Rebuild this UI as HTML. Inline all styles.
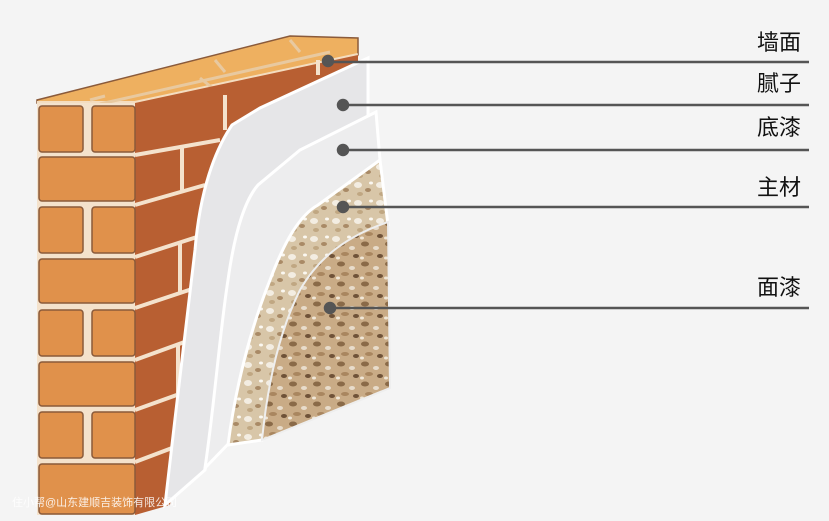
<!DOCTYPE html>
<html><head><meta charset="utf-8"><style>
html,body{margin:0;padding:0;background:#f4f4f4;}
svg{display:block}
text{font-family:"Liberation Sans","Noto Sans CJK SC",sans-serif;}
</style></head><body>
<svg width="829" height="521" viewBox="0 0 829 521" xmlns="http://www.w3.org/2000/svg">
<rect width="829" height="521" fill="#f4f4f4"/>
<defs>
<pattern id="spk" width="24" height="20" patternUnits="userSpaceOnUse">
<rect width="24" height="20" fill="#c9ab86"/>
<ellipse cx="5" cy="4" rx="4" ry="2.5" fill="#8a6a48"/>
<ellipse cx="16" cy="8" rx="3" ry="2" fill="#e8dccb"/>
<ellipse cx="9" cy="14" rx="4" ry="2" fill="#a9865f"/>
<ellipse cx="20" cy="16" rx="3" ry="2" fill="#6f5238"/>
<ellipse cx="2" cy="18" rx="2" ry="1.5" fill="#f0e6d6"/>
</pattern>
<pattern id="spk2" width="22" height="18" patternUnits="userSpaceOnUse">
<rect width="22" height="18" fill="#d8c6a8"/>
<ellipse cx="6" cy="5" rx="4" ry="3" fill="#f3ede2"/>
<ellipse cx="16" cy="10" rx="3" ry="2" fill="#a98a66"/>
<ellipse cx="8" cy="14" rx="3" ry="2" fill="#c0a782"/>
<ellipse cx="19" cy="3" rx="2" ry="1.5" fill="#fbf8f1"/>
</pattern>
</defs>
<!-- brick top face -->
<polygon points="37,103 135,103 358,55 358,38 290,36 37,100" fill="#eeb060" stroke="#8a5a3a" stroke-width="1.5"/>
<path d="M37,103 L135,103 L358,55" fill="none" stroke="#f4ddc0" stroke-width="4"/>
<g stroke="#e8c9a0" stroke-width="3" fill="none">
<path d="M100,104 L330,52"/><path d="M90,100 L105,96"/><path d="M200,78 L215,90"/><path d="M215,60 L225,72"/><path d="M290,40 L300,52"/>
</g>
<!-- side face -->
<polygon points="135,103 358,55 358,70 230,140 170,505 135,515" fill="#b85f32"/>
<g stroke="#f4e2cc" stroke-width="4" fill="none">
<path d="M135,155 L220,140"/><path d="M135,205 L205,185"/><path d="M135,257 L200,236"/><path d="M135,308 L195,288"/><path d="M135,360 L190,340"/><path d="M135,410 L185,392"/><path d="M135,462 L180,445"/>
<path d="M182,147 L182,190"/><path d="M180,243 L180,293"/><path d="M178,345 L178,395"/><path d="M225,95 L225,130"/><path d="M318,75 L318,60"/>
</g>
<!-- front face bricks -->
<rect x="37" y="103" width="98" height="412" fill="#f4e2cc"/>
<g fill="#e0914b" stroke="#8a5a3a" stroke-width="1.5">
<rect x="39" y="106" width="44" height="46" rx="3"/><rect x="92" y="106" width="43" height="46" rx="3"/>
<rect x="39" y="157" width="96" height="44" rx="3"/>
<rect x="39" y="207" width="44" height="46" rx="3"/><rect x="92" y="207" width="43" height="46" rx="3"/>
<rect x="39" y="259" width="96" height="44" rx="3"/>
<rect x="39" y="310" width="44" height="46" rx="3"/><rect x="92" y="310" width="43" height="46" rx="3"/>
<rect x="39" y="362" width="96" height="44" rx="3"/>
<rect x="39" y="412" width="44" height="46" rx="3"/><rect x="92" y="412" width="43" height="46" rx="3"/>
<rect x="39" y="464" width="96" height="50" rx="3"/>
</g>
<!-- putty -->
<path d="M368,58 L368,140 L300,200 L240,300 L205,470 L165,505 C175,420 185,330 195,250 C200,190 215,150 232,125 L260,108 Z" fill="#e6e6e8" stroke="#fff" stroke-width="3"/>
<!-- primer -->
<path d="M376,112 L380,160 L330,200 L280,300 L232,440 L205,468 C215,400 220,330 228,280 C235,230 245,200 258,185 L300,150 Z" fill="#ededee" stroke="#fff" stroke-width="3"/>
<!-- main material -->
<path d="M380,160 L388,225 L330,265 L280,360 L262,440 L228,445 C235,390 250,330 270,280 C285,240 300,215 318,205 Z" fill="url(#spk2)" stroke="#fff" stroke-width="3"/>
<!-- top coat -->
<path d="M388,222 L390,388 L262,440 C268,380 280,330 300,290 C320,255 350,235 388,222 Z" fill="url(#spk)" stroke="#eee" stroke-width="2"/>
<!-- leader lines -->
<g stroke="#555" stroke-width="2.5" fill="#555">
<line x1="328" y1="62" x2="809" y2="62"/><circle cx="328" cy="61" r="5"/>
<line x1="343" y1="105" x2="809" y2="105"/><circle cx="343" cy="105" r="5"/>
<line x1="343" y1="150" x2="809" y2="150"/><circle cx="343" cy="150" r="5"/>
<line x1="343" y1="207" x2="809" y2="207"/><circle cx="343" cy="207" r="5"/>
<line x1="330" y1="308" x2="809" y2="308"/><circle cx="330" cy="308" r="5"/>
</g>
<g font-size="22" fill="#111" text-anchor="end">
<text x="801" y="50">墙面</text>
<text x="801" y="91">腻子</text>
<text x="801" y="135">底漆</text>
<text x="801" y="195">主材</text>
<text x="801" y="295">面漆</text>
</g>
<text x="12" y="506" font-size="11" fill="#fff" opacity="0.85">住小帮@山东建顺吉装饰有限公司</text>
</svg>
</body></html>
